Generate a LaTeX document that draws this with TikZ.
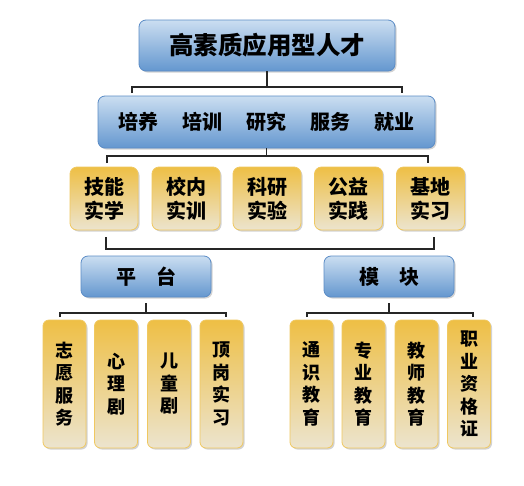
\documentclass[tikz,border=0pt]{standalone}
\usepackage{fontspec}
\newfontfamily\cjk{Noto Sans CJK SC}
\usetikzlibrary{shadows}
\usetikzlibrary{positioning}

\definecolor{bluetop}{HTML}{CBDEF1}
\definecolor{bluebot}{HTML}{6497CF}
\definecolor{blueline}{HTML}{5B8CC6}
\definecolor{goldtop}{HTML}{EEBF45}
\definecolor{goldbot}{HTML}{ECE4CE}
\definecolor{goldline}{HTML}{F0C860}

\begin{document}
\begin{tikzpicture}[x=1pt,y=-1pt,
    bluebox/.style={draw=blueline, line width=0.8pt, rounded corners=7pt,
      top color=bluetop, bottom color=bluebot, inner sep=0pt,
      drop shadow={shadow xshift=1.5pt, shadow yshift=-1.5pt, opacity=0.35},
      font=\cjk\bfseries\fontsize{20}{24}\selectfont},
    goldbox/.style={draw=goldline, line width=0.8pt, rounded corners=7pt,
      top color=goldtop, bottom color=goldbot, inner sep=0pt, align=center,
      drop shadow={shadow xshift=1.5pt, shadow yshift=-1.5pt, opacity=0.35},
      font=\cjk\bfseries\fontsize{20}{24}\selectfont},
    tallbox/.style={goldbox, rounded corners=6pt, minimum width=43pt, minimum height=128pt,
      font=\cjk\bfseries\fontsize{18}{22.5}\selectfont},
    brace/.style={line width=1.3pt, draw=black!85}]

        \useasboundingbox[fill=white] (0,0) rectangle (524,485);

        % Top levels
        \node[bluebox, minimum width=256pt, minimum height=51pt,
              font=\cjk\bfseries\fontsize{24.5}{28}\selectfont] (talent) at (267,45.5) {高素质应用型人才};
        \node[bluebox, minimum width=337pt, minimum height=52pt] (goals) at (266.5,122)
              {培养\hspace{1.2em}培训\hspace{1.2em}研究\hspace{1.2em}服务\hspace{1.2em}就业};

        % Practice boxes
        \node[goldbox, minimum width=68pt, minimum height=63pt] (skill) at (104,198.5) {技能\\实学};
        \node[goldbox, minimum width=68pt, minimum height=63pt] (campus) at (186,198.5) {校内\\实训};
        \node[goldbox, minimum width=68pt, minimum height=63pt] (research) at (267,198.5) {科研\\实验};
        \node[goldbox, minimum width=68pt, minimum height=63pt] (public) at (348.5,198.5) {公益\\实践};
        \node[goldbox, minimum width=68pt, minimum height=63pt] (base) at (430.5,198.5) {基地\\实习};

        % Platform and module
        \node[bluebox, minimum width=130pt, minimum height=41pt] (platform) at (146,276.5) {平\hspace{1em}台};
        \node[bluebox, minimum width=130pt, minimum height=41pt] (module) at (389,276.5) {模\hspace{1em}块};

        % Bottom boxes
        \node[tallbox] (volunteer) at (64.5,384) {志\\愿\\服\\务};
        \node[tallbox] (psych) at (116,384) {心\\理\\剧};
        \node[tallbox] (child) at (169,384) {儿\\童\\剧};
        \node[tallbox] (intern) at (221.5,384) {顶\\岗\\实\\习};
        \node[tallbox] (general) at (311.5,384) {通\\识\\教\\育};
        \node[tallbox] (major) at (363.5,384) {专\\业\\教\\育};
        \node[tallbox] (teacher) at (416.5,384) {教\\师\\教\\育};
        \node[tallbox] (cert) at (469,384) {职\\业\\资\\格\\证};

        % Brackets
        \coordinate (b1l) at (132,87);
        \coordinate (b1r) at (402,87);
        \draw[brace] (talent.south) -- (talent.south |- b1l);
        \draw[brace] ([yshift=-6pt]b1l) -- (b1l) -- (b1r) -- ([yshift=-6pt]b1r);

        \coordinate (b2l) at (107,156);
        \coordinate (b2r) at (428,156);
        \draw[brace] (goals.south) -- (goals.south |- b2l);
        \draw[brace] ([yshift=-7pt]b2l) -- (b2l) -- (b2r) -- ([yshift=-7pt]b2r);

        \coordinate (b3l) at (106,249);
        \coordinate (b3r) at (434,249);
        \draw[brace] ([yshift=12pt]b3l) -- (b3l) -- (b3r) -- ([yshift=12pt]b3r);

        \coordinate (b4l) at (60,313);
        \coordinate (b4r) at (226,313);
        \draw[brace] ([yshift=-6pt]platform.south) -- (platform.south |- b4l);
        \draw[brace] ([yshift=-4pt]b4l) -- (b4l) -- (b4r) -- ([yshift=-4pt]b4r);

        \coordinate (b5l) at (307,313);
        \coordinate (b5r) at (473,313);
        \draw[brace] ([yshift=-6pt]module.south) -- (module.south |- b5l);
        \draw[brace] ([yshift=-4pt]b5l) -- (b5l) -- (b5r) -- ([yshift=-4pt]b5r);
\end{tikzpicture}
\end{document}
